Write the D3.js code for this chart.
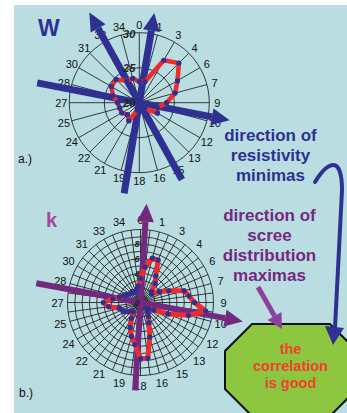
<!DOCTYPE html>
<html>
<head>
<meta charset="utf-8">
<script src="https://cdn.jsdelivr.net/npm/d3@7"></script>
<style>
  html, body { margin: 0; padding: 0; background: #ffffff; }
  svg { display: block; font-family: "Liberation Sans", Arial, sans-serif; }
</style>
</head>
<body>
<svg id="fig" width="347" height="413"></svg>
<script>
// ---- data ---------------------------------------------------------------
// compass spokes: 24 directions every 15°, labelled in tens of degrees
const spokeLabels = ["0","1","3","4","6","7","9","10","12","13","15","16",
                     "18","19","21","22","24","25","27","28","30","31","33","34"];

// a.) apparent resistivity per direction (24 directions, 15° step)
const resDirections = d3.range(0, 360, 15);
const resValues = [23.0, 23.1, 27.0, 28.0, 26.3, 25.3, 23.9, 22.7, 23.0, 21.1, 20.6, 20.4,
                   20.6, 21.1, 23.0, 22.4, 22.9, 22.9, 23.1, 23.9, 24.6, 24.7, 23.6, 23.6];
const resRings = [20, 25, 30];
const resRingLabels = ["20", "25", "30"];

// b.) scree distribution per direction (48 directions, 7.5° step)
const screeDirections = d3.range(0, 360, 7.5);
const screeValues = [3.3, 4.9, 6.3, 6.3, 4.2, 3.3, 2.1, 1.9, 3.0, 4.2, 6.2, 6.7,
                     7.4, 9.0, 6.8, 4.1, 2.1, 1.4, 1.2, 1.6, 2.2, 3.0, 4.9, 7.7,
                     7.7, 5.8, 4.8, 3.7, 2.5, 1.6, 1.6, 2.1, 2.5, 2.7, 3.0, 4.4,
                     5.1, 3.8, 3.0, 2.5, 2.2, 1.9, 1.8, 1.9, 1.6, 1.6, 1.9, 2.3];
const screeRings = d3.range(0, 11, 1);
const screeRingLabels = ["0", "2", "4", "6", "8"];

// interpreted directions (degrees from north)
const resMinimaDirs = [9.5, 331, 101];
const screeMaximaDirs = [3.5, 100.5];

// ---- drawing ------------------------------------------------------------
const svg = d3.select("#fig");
const W = 347, H = 413;

const NAVY = "#2e3192", RED = "#ef2b2d", PURPLE = "#74297f",
      PURPLE_LIGHT = "#8c419b", MAGENTA = "#a9489e", BG = "#b9dde1";

svg.append("rect").attr("x", 14).attr("y", 5).attr("width", W - 14).attr("height", H - 5)
  .attr("fill", BG);

const toRad = d3.scaleLinear().domain([0, 360]).range([0, 2 * Math.PI]);
function polar(cx, cy, deg, r) {
  const a = toRad(deg);
  return [cx + r * Math.sin(a), cy - r * Math.cos(a)];
}

function arrow(g, cx, cy, deg, tail, tip, color, width, headLen, headHalf) {
  const p0 = polar(cx, cy, deg + 180, tail);
  const p1 = polar(cx, cy, deg, tip);
  const base = polar(cx, cy, deg, tip - headLen);
  g.append("line")
    .attr("x1", p0[0]).attr("y1", p0[1]).attr("x2", base[0]).attr("y2", base[1])
    .attr("stroke", color).attr("stroke-width", width);
  const l = polar(base[0], base[1], deg - 90, headHalf);
  const r = polar(base[0], base[1], deg + 90, headHalf);
  g.append("path").attr("d", `M${p1[0]},${p1[1]}L${l[0]},${l[1]}L${r[0]},${r[1]}Z`)
    .attr("fill", color);
}

function rose(opt) {
  const g = svg.append("g");
  const rScale = d3.scaleLinear().domain(opt.domain).range([0, opt.radius]);
  const grid = g.append("g").attr("stroke", "#111").attr("fill", "none").attr("stroke-width", 0.8);
  opt.rings.forEach(v => {
    if (rScale(v) > 0.5)
      grid.append("circle").attr("cx", opt.cx).attr("cy", opt.cy).attr("r", rScale(v));
  });
  opt.spokeDirs.forEach(d => {
    const p = polar(opt.cx, opt.cy, d, opt.radius);
    grid.append("line").attr("x1", opt.cx).attr("y1", opt.cy).attr("x2", p[0]).attr("y2", p[1]);
  });
  // compass labels
  spokeLabels.forEach((t, i) => {
    const p = polar(opt.cx, opt.cy, i * 15, opt.labelR);
    g.append("text").attr("x", p[0]).attr("y", p[1] + 4)
      .attr("text-anchor", "middle").attr("font-size", 11).attr("fill", "#111").text(t);
  });
  // direction arrows
  opt.arrows.forEach(a => arrow(g, opt.cx, opt.cy, a.deg, a.tail, a.tip, opt.arrowColor,
                                opt.arrowWidth, 18, 8.5));
  // ring value labels along the north axis
  opt.ringLabels.forEach(t => {
    g.append("text").attr("x", opt.cx - opt.ringGap)
      .attr("y", opt.cy - rScale(+t) + opt.ringFont * 0.36 + (rScale(+t) >= opt.radius ? 1.5 : 0))
      .attr("text-anchor", "end").attr("font-size", opt.ringFont).attr("font-style", "italic")
      .attr("font-weight", "bold").attr("fill", "#222").text(t);
  });
  // data polygon
  const line = d3.lineRadial()
    .angle((d, i) => toRad(opt.dirs[i]))
    .radius(d => rScale(d))
    .curve(d3.curveLinearClosed);
  g.append("path").attr("transform", `translate(${opt.cx},${opt.cy})`)
    .attr("d", line(opt.values)).attr("fill", "none")
    .attr("stroke", RED).attr("stroke-width", opt.lineWidth).attr("stroke-linejoin", "round");
  g.selectAll(null).data(opt.values).join("circle")
    .attr("cx", (d, i) => polar(opt.cx, opt.cy, opt.dirs[i], rScale(d))[0])
    .attr("cy", (d, i) => polar(opt.cx, opt.cy, opt.dirs[i], rScale(d))[1])
    .attr("r", 2.6).attr("fill", NAVY);
  return g;
}

// a.) resistivity rose
rose({
  cx: 139.3, cy: 102.7, radius: 70, labelR: 78, domain: [20, 30],
  rings: resRings, spokeDirs: resDirections,
  ringLabels: resRingLabels, ringFont: 11, ringGap: 4,
  dirs: resDirections, values: resValues, lineWidth: 4.5,
  arrows: [
    {deg: resMinimaDirs[0], tail: 92, tip: 91},
    {deg: resMinimaDirs[1], tail: 88, tip: 103},
    {deg: resMinimaDirs[2], tail: 104, tip: 92}
  ],
  arrowColor: NAVY, arrowWidth: 7
});

// b.) scree rose
rose({
  cx: 140.5, cy: 302.5, radius: 73, labelR: 83, domain: [0, 10],
  rings: screeRings, spokeDirs: screeDirections,
  ringLabels: screeRingLabels, ringFont: 9, ringGap: 1,
  dirs: screeDirections, values: screeValues, lineWidth: 5,
  arrows: [
    {deg: screeMaximaDirs[0], tail: 88, tip: 99},
    {deg: screeMaximaDirs[1], tail: 106, tip: 104}
  ],
  arrowColor: PURPLE, arrowWidth: 6
});

// panel letters
svg.append("text").attr("x", 38).attr("y", 36).attr("font-size", 23).attr("font-weight", "bold")
  .attr("fill", NAVY).text("W");
svg.append("text").attr("x", 46).attr("y", 227).attr("font-size", 20).attr("font-weight", "bold")
  .attr("fill", MAGENTA).text("k");
svg.append("text").attr("x", 18).attr("y", 163).attr("font-size", 12).attr("fill", "#111").text("a.)");
svg.append("text").attr("x", 19).attr("y", 397).attr("font-size", 12).attr("fill", "#111").text("b.)");

// captions
function caption(lines, x, y0, color, size, step) {
  const t = svg.append("text").attr("text-anchor", "middle").attr("font-weight", "bold")
    .attr("font-size", size).attr("fill", color);
  lines.forEach((s, i) => t.append("tspan").attr("x", x).attr("y", y0 + i * step).text(s));
}
caption(["direction of", "resistivity", "minimas"], 270.5, 141, NAVY, 17, 20);
caption(["direction of", "scree", "distribution", "maximas"], 269.5, 220.5, PURPLE, 17, 20.2);

// conclusion box
const oct = {cx: 291, cy: 370, hw: 66, hh: 46, cut: 27};
const octPts = [
  [oct.cx - oct.hw + oct.cut, oct.cy - oct.hh], [oct.cx + oct.hw - oct.cut, oct.cy - oct.hh],
  [oct.cx + oct.hw, oct.cy - oct.hh + oct.cut], [oct.cx + oct.hw, oct.cy + oct.hh - oct.cut],
  [oct.cx + oct.hw - oct.cut, oct.cy + oct.hh], [oct.cx - oct.hw + oct.cut, oct.cy + oct.hh],
  [oct.cx - oct.hw, oct.cy + oct.hh - oct.cut], [oct.cx - oct.hw, oct.cy - oct.hh + oct.cut]
];
svg.append("path").attr("d", d3.line()(octPts) + "Z")
  .attr("fill", "#8dc63f").attr("stroke", "#111").attr("stroke-width", 2);
caption(["the", "correlation", "is good"], 290.5, 354, "#f0412f", 14.5, 17);

// pointer from the scree caption to the box
(function () {
  const x0 = 258, y0 = 287, x1 = 282, y1 = 329;
  const ang = Math.atan2(y1 - y0, x1 - x0);
  const hl = 15, hw = 8;
  const bx = x1 - hl * Math.cos(ang), by = y1 - hl * Math.sin(ang);
  svg.append("line").attr("x1", x0).attr("y1", y0).attr("x2", bx).attr("y2", by)
    .attr("stroke", PURPLE_LIGHT).attr("stroke-width", 5);
  svg.append("path").attr("d",
    `M${x1},${y1}L${bx + hw * Math.sin(ang)},${by - hw * Math.cos(ang)}L${bx - hw * Math.sin(ang)},${by + hw * Math.cos(ang)}Z`)
    .attr("fill", PURPLE_LIGHT);
})();

// curved pointer from the resistivity caption to the box
(function () {
  const p = d3.path();
  p.moveTo(315, 182);
  p.bezierCurveTo(326, 164, 342, 152, 342, 190);
  p.lineTo(335, 328);
  svg.append("path").attr("d", p.toString()).attr("fill", "none")
    .attr("stroke", NAVY).attr("stroke-width", 4).attr("stroke-linecap", "round");
  svg.append("path").attr("d", "M333,345L325,326L344,328Z").attr("fill", NAVY);
})();
</script>
</body>
</html>
